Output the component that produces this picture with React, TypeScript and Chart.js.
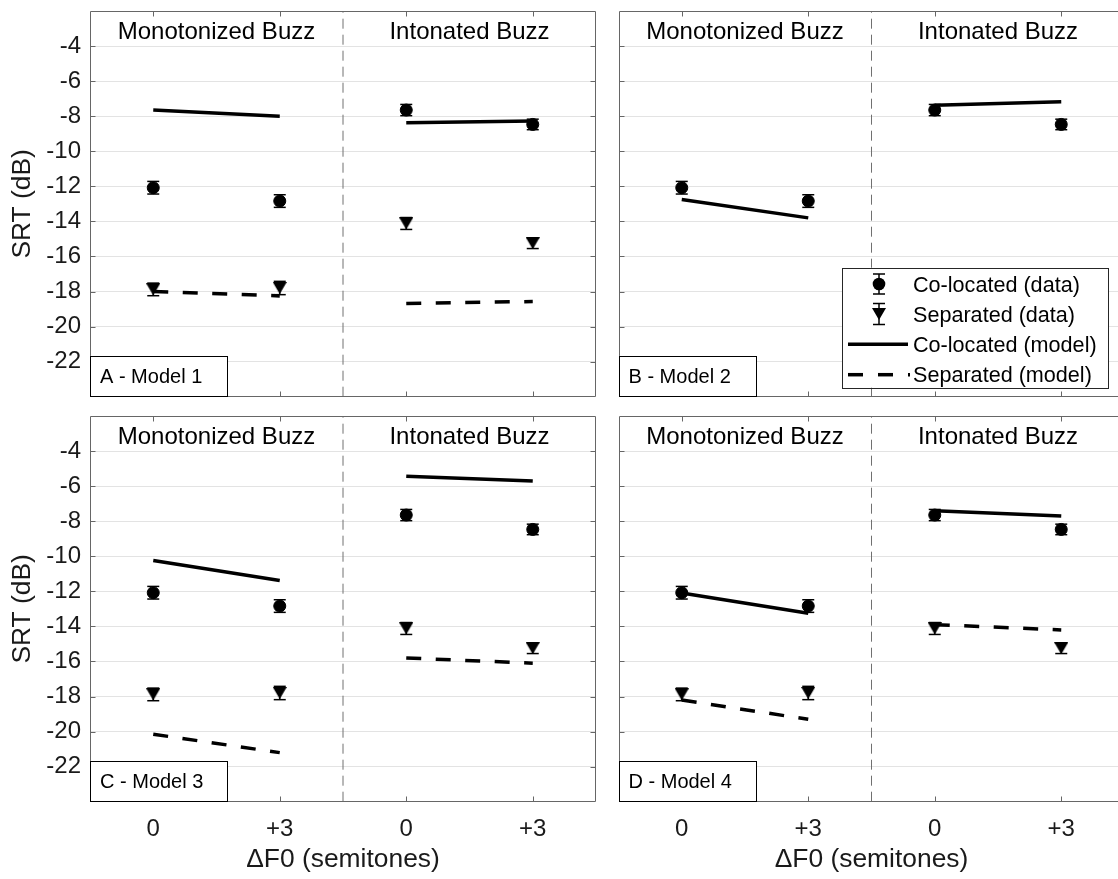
import React, { useEffect, useRef } from 'react';
import { Chart, registerables } from 'chart.js';

Chart.register(...registerables);

// ---------------- data ----------------
const xPositions = [1, 2, 3, 4];
const xTickLabels = ['0', '+3', '0', '+3'];
const yTickValues = [-22, -20, -18, -16, -14, -12, -10, -8, -6, -4];
const yMin = -24;
const yMax = -2;
const groupDivider = 2.5;
const groupTitles = ['Monotonized Buzz', 'Intonated Buzz'];
const groupCenters = [1.5, 3.5];

const coLocatedData = [-12.08, -12.84, -7.65, -8.47];
const coLocatedErr = [0.36, 0.36, 0.32, 0.3];
const separatedData = [-17.88, -17.8, -14.12, -15.25];
const separatedErr = [0.36, 0.38, 0.34, 0.3];

const model1Co = [-7.65, -8.0, -8.37, -8.27];
const model1Sep = [-18.0, -18.25, -18.68, -18.57];
const model2Co = [-12.75, -13.8, -7.38, -7.18];
const model3Co = [-10.24, -11.38, -5.43, -5.71];
const model3Sep = [-20.15, -21.2, -15.8, -16.1];
const model4Co = [-12.1, -13.25, -7.4, -7.7];
const model4Sep = [-18.2, -19.3, -13.9, -14.2];

const panelNames = ['A - Model 1', 'B - Model 2', 'C - Model 3', 'D - Model 4'];
const legendLabels = ['Co-located (data)', 'Separated (data)', 'Co-located (model)', 'Separated (model)'];
const xTitle = '\u0394F0 (semitones)';
const yTitle = 'SRT (dB)';

// ---------------- layout ----------------
const W = 1160;
const H = 879;
const FONT = '"Liberation Sans", Arial, Helvetica, sans-serif';
const BOX = '#666666';

type Area = { left: number; top: number; right: number; bottom: number };
type Panel = {
  name: string;
  co: number[];
  sep: number[] | null;
  showSep: boolean;
  area: Area;
  leftCol: boolean;
  bottomRow: boolean;
  legend: boolean;
};

const PANELS: Panel[] = [
  { name: panelNames[0], co: model1Co, sep: model1Sep, showSep: true, area: { left: 90, top: 11, right: 596, bottom: 396.7 }, leftCol: true, bottomRow: false, legend: false },
  { name: panelNames[1], co: model2Co, sep: null, showSep: false, area: { left: 618.5, top: 11, right: 1124.5, bottom: 396.7 }, leftCol: false, bottomRow: false, legend: true },
  { name: panelNames[2], co: model3Co, sep: model3Sep, showSep: true, area: { left: 90, top: 416, right: 596, bottom: 801.7 }, leftCol: true, bottomRow: true, legend: false },
  { name: panelNames[3], co: model4Co, sep: model4Sep, showSep: true, area: { left: 618.5, top: 416, right: 1124.5, bottom: 801.7 }, leftCol: false, bottomRow: true, legend: false },
];

function makeTriangle(): HTMLCanvasElement {
  const c = document.createElement('canvas');
  c.width = 14;
  c.height = 12;
  const g = c.getContext('2d')!;
  g.fillStyle = '#000';
  g.beginPath();
  g.moveTo(0, 0);
  g.lineTo(14, 0);
  g.lineTo(7, 12);
  g.closePath();
  g.fill();
  return c;
}

function segments(vals: number[], dash: number[], label: string) {
  return [
    [0, 1],
    [2, 3],
  ].map(([a, b]) => ({
    type: 'line' as const,
    label,
    data: [
      { x: xPositions[a], y: vals[a] },
      { x: xPositions[b], y: vals[b] },
    ],
    borderColor: '#000',
    borderWidth: 3.5,
    borderDash: dash,
    borderCapStyle: 'butt' as const,
    pointRadius: 0,
    fill: false,
    tension: 0,
    order: 2,
  }));
}

function line(ctx: CanvasRenderingContext2D, x1: number, y1: number, x2: number, y2: number) {
  ctx.beginPath();
  ctx.moveTo(x1, y1);
  ctx.lineTo(x2, y2);
  ctx.stroke();
}

function drawErrorBars(chart: any, vals: number[], errs: number[]) {
  const { ctx, scales } = chart;
  const xs = scales.x;
  const ys = scales.y;
  ctx.save();
  ctx.strokeStyle = '#000';
  ctx.lineWidth = 1.5;
  vals.forEach((v, i) => {
    const px = xs.getPixelForValue(xPositions[i]);
    const t = ys.getPixelForValue(v + errs[i]);
    const b = ys.getPixelForValue(v - errs[i]);
    line(ctx, px, t, px, b);
    line(ctx, px - 6, t, px + 6, t);
    line(ctx, px - 6, b, px + 6, b);
  });
  ctx.restore();
}

function drawLegend(ctx: CanvasRenderingContext2D, area: any, tri: HTMLCanvasElement) {
  const right = area.right - 16.5;
  const bottom = area.bottom - 9;
  const w = 266;
  const h = 120;
  const left = right - w;
  const top = bottom - h;
  ctx.save();
  ctx.fillStyle = '#fff';
  ctx.fillRect(left, top, w, h);
  ctx.strokeStyle = '#262626';
  ctx.lineWidth = 1;
  ctx.strokeRect(Math.round(left) + 0.5, Math.round(top) + 0.5, Math.round(w), Math.round(h));
  const rows = [top + 16.3, top + 46.3, top + 76.6, top + 107];
  const ix = left + 37;
  ctx.strokeStyle = '#000';
  ctx.fillStyle = '#000';
  ctx.lineWidth = 1.5;
  line(ctx, ix, rows[0] - 10, ix, rows[0] + 10);
  line(ctx, ix - 6, rows[0] - 10, ix + 6, rows[0] - 10);
  line(ctx, ix - 6, rows[0] + 10, ix + 6, rows[0] + 10);
  ctx.beginPath();
  ctx.arc(ix, rows[0], 6.3, 0, Math.PI * 2);
  ctx.fill();
  line(ctx, ix, rows[1] - 10.5, ix, rows[1] + 10.5);
  line(ctx, ix - 6, rows[1] - 10.5, ix + 6, rows[1] - 10.5);
  line(ctx, ix - 6, rows[1] + 10.5, ix + 6, rows[1] + 10.5);
  ctx.drawImage(tri, ix - 7, rows[1] - 6);
  ctx.lineWidth = 3.5;
  ctx.lineCap = 'butt';
  line(ctx, left + 6, rows[2], left + 66, rows[2]);
  ctx.setLineDash([15, 15]);
  line(ctx, left + 6, rows[3], left + 68, rows[3]);
  ctx.setLineDash([]);
  ctx.font = `21.6px ${FONT}`;
  ctx.textAlign = 'left';
  ctx.textBaseline = 'alphabetic';
  ctx.fillStyle = '#000';
  legendLabels.forEach((t, i) => ctx.fillText(t, left + 71, rows[i] + 7.7));
  ctx.restore();
}

function buildChart(canvas: HTMLCanvasElement, p: Panel, tri: HTMLCanvasElement) {
  const datasets: any[] = [];
  datasets.push({
    type: 'line',
    label: legendLabels[0],
    data: xPositions.map((x, i) => ({ x, y: coLocatedData[i] })),
    showLine: false,
    pointStyle: 'circle',
    pointRadius: 6,
    pointBorderWidth: 1,
    pointBackgroundColor: '#000',
    pointBorderColor: '#000',
    order: 1,
  });
  if (p.showSep) {
    datasets.push({
      type: 'line',
      label: legendLabels[1],
      data: xPositions.map((x, i) => ({ x, y: separatedData[i] })),
      showLine: false,
      pointStyle: tri,
      pointRadius: 7,
      order: 1,
    });
  }
  datasets.push(...segments(p.co, [], legendLabels[2]));
  if (p.sep) datasets.push(...segments(p.sep, [15, 14.5], legendLabels[3]));
  datasets.push({
    type: 'line',
    label: 'divider',
    data: [
      { x: groupDivider, y: yMin },
      { x: groupDivider, y: yMax },
    ],
    borderColor: '#707070',
    borderWidth: 1,
    borderDash: [10, 6],
    pointRadius: 0,
    order: 5,
  });

  const a = p.area;
  const chrome = {
    id: 'chrome' + p.name,
    afterDatasetsDraw(chart: any) {
      drawErrorBars(chart, coLocatedData, coLocatedErr);
      if (p.showSep) drawErrorBars(chart, separatedData, separatedErr);
    },
    afterDraw(chart: any) {
      const { ctx, chartArea, scales } = chart;
      const { left, top, right, bottom } = chartArea;
      ctx.save();
      ctx.fillStyle = '#000';
      ctx.font = `24px ${FONT}`;
      ctx.textAlign = 'center';
      ctx.textBaseline = 'alphabetic';
      groupTitles.forEach((t, i) => ctx.fillText(t, scales.x.getPixelForValue(groupCenters[i]), top + 27.5));
      const L = Math.round(left) + 0.5;
      const T = Math.round(top) + 0.5;
      const R = Math.round(right) - 0.5;
      const B = Math.round(bottom) - 0.5;
      ctx.lineWidth = 1;
      ctx.strokeStyle = BOX;
      line(ctx, L, T, R, T);
      line(ctx, L, B, R, B);
      line(ctx, L, T, L, B);
      if (p.leftCol) line(ctx, R, T, R, B);
      xPositions.forEach((v) => {
        const px = Math.round(scales.x.getPixelForValue(v)) + 0.5;
        line(ctx, px, T, px, T + 5);
        line(ctx, px, B, px, B - 5);
      });
      yTickValues.forEach((v) => {
        const py = Math.round(scales.y.getPixelForValue(v)) + 0.5;
        line(ctx, L, py, L + 5, py);
        line(ctx, R, py, R - 5, py);
      });
      const bw = 137.3;
      const bh = 40.7;
      ctx.fillStyle = '#fff';
      ctx.fillRect(L, B - bh, bw, bh);
      ctx.strokeStyle = '#000';
      ctx.strokeRect(L, Math.round(B - bh) + 0.5, Math.round(bw), Math.round(B - (Math.round(B - bh) + 0.5)));
      ctx.fillStyle = '#000';
      ctx.font = `20px ${FONT}`;
      ctx.textAlign = 'left';
      ctx.fillText(p.name, left + 10, bottom - 14);
      ctx.restore();
      if (p.legend) drawLegend(ctx, chartArea, tri);
    },
  };

  return new Chart(canvas, {
    type: 'line',
    data: { datasets },
    options: {
      animation: false,
      responsive: false,
      events: [],
      layout: { padding: { left: 0, top: a.top, right: W - a.right, bottom: 0 } },
      plugins: { legend: { display: false }, tooltip: { enabled: false } },
      scales: {
        x: {
          type: 'linear',
          min: 0.5,
          max: 4.5,
          afterBuildTicks: (s: any) => {
            s.ticks = xPositions.map((v) => ({ value: v }));
          },
          afterFit: (s: any) => {
            s.height = H - a.bottom;
            s.paddingLeft = 0;
            s.paddingRight = 0;
            s.paddingTop = 0;
            s.paddingBottom = 0;
          },
          grid: { display: false },
          border: { display: false },
          ticks: {
            display: p.bottomRow,
            autoSkip: false,
            maxRotation: 0,
            padding: 5,
            color: '#1a1a1a',
            font: { size: 24, family: FONT },
            callback: (v: any) => xTickLabels[xPositions.indexOf(Number(v))] ?? '',
          },
          title: {
            display: p.bottomRow,
            text: xTitle,
            color: '#1a1a1a',
            font: { size: 26.4, family: FONT },
            padding: { top: 0, bottom: 3 },
          },
        },
        y: {
          type: 'linear',
          min: yMin,
          max: yMax,
          afterBuildTicks: (s: any) => {
            s.ticks = yTickValues.map((v) => ({ value: v }));
          },
          afterFit: (s: any) => {
            s.width = a.left;
            s.paddingLeft = 0;
            s.paddingRight = 0;
            s.paddingTop = 0;
            s.paddingBottom = 0;
          },
          grid: { color: '#e3e3e3', lineWidth: 1, drawTicks: false },
          border: { display: false },
          ticks: {
            display: p.leftCol,
            padding: 9,
            color: '#1a1a1a',
            font: { size: 24, family: FONT },
            callback: (v: any) => String(v),
          },
          title: {
            display: p.leftCol,
            text: yTitle,
            color: '#1a1a1a',
            font: { size: 26.4, family: FONT },
            padding: { top: 7, bottom: 0 },
          },
        },
      },
    } as any,
    plugins: [chrome],
  });
}

export default function App() {
  const refs = useRef<(HTMLCanvasElement | null)[]>([]);
  useEffect(() => {
    const tri = makeTriangle();
    const charts = PANELS.map((p, i) => buildChart(refs.current[i]!, p, tri));
    return () => charts.forEach((c) => c.destroy());
  }, []);
  return (
    <div style={{ position: 'absolute', left: 0, top: 0, width: 1118, height: 879, overflow: 'hidden', background: '#fff' }}>
      {PANELS.map((p, i) => (
        <canvas
          key={p.name}
          ref={(el) => {
            refs.current[i] = el;
          }}
          width={W}
          height={H}
          style={{ position: 'absolute', left: 0, top: 0, width: W, height: H }}
        />
      ))}
    </div>
  );
}
